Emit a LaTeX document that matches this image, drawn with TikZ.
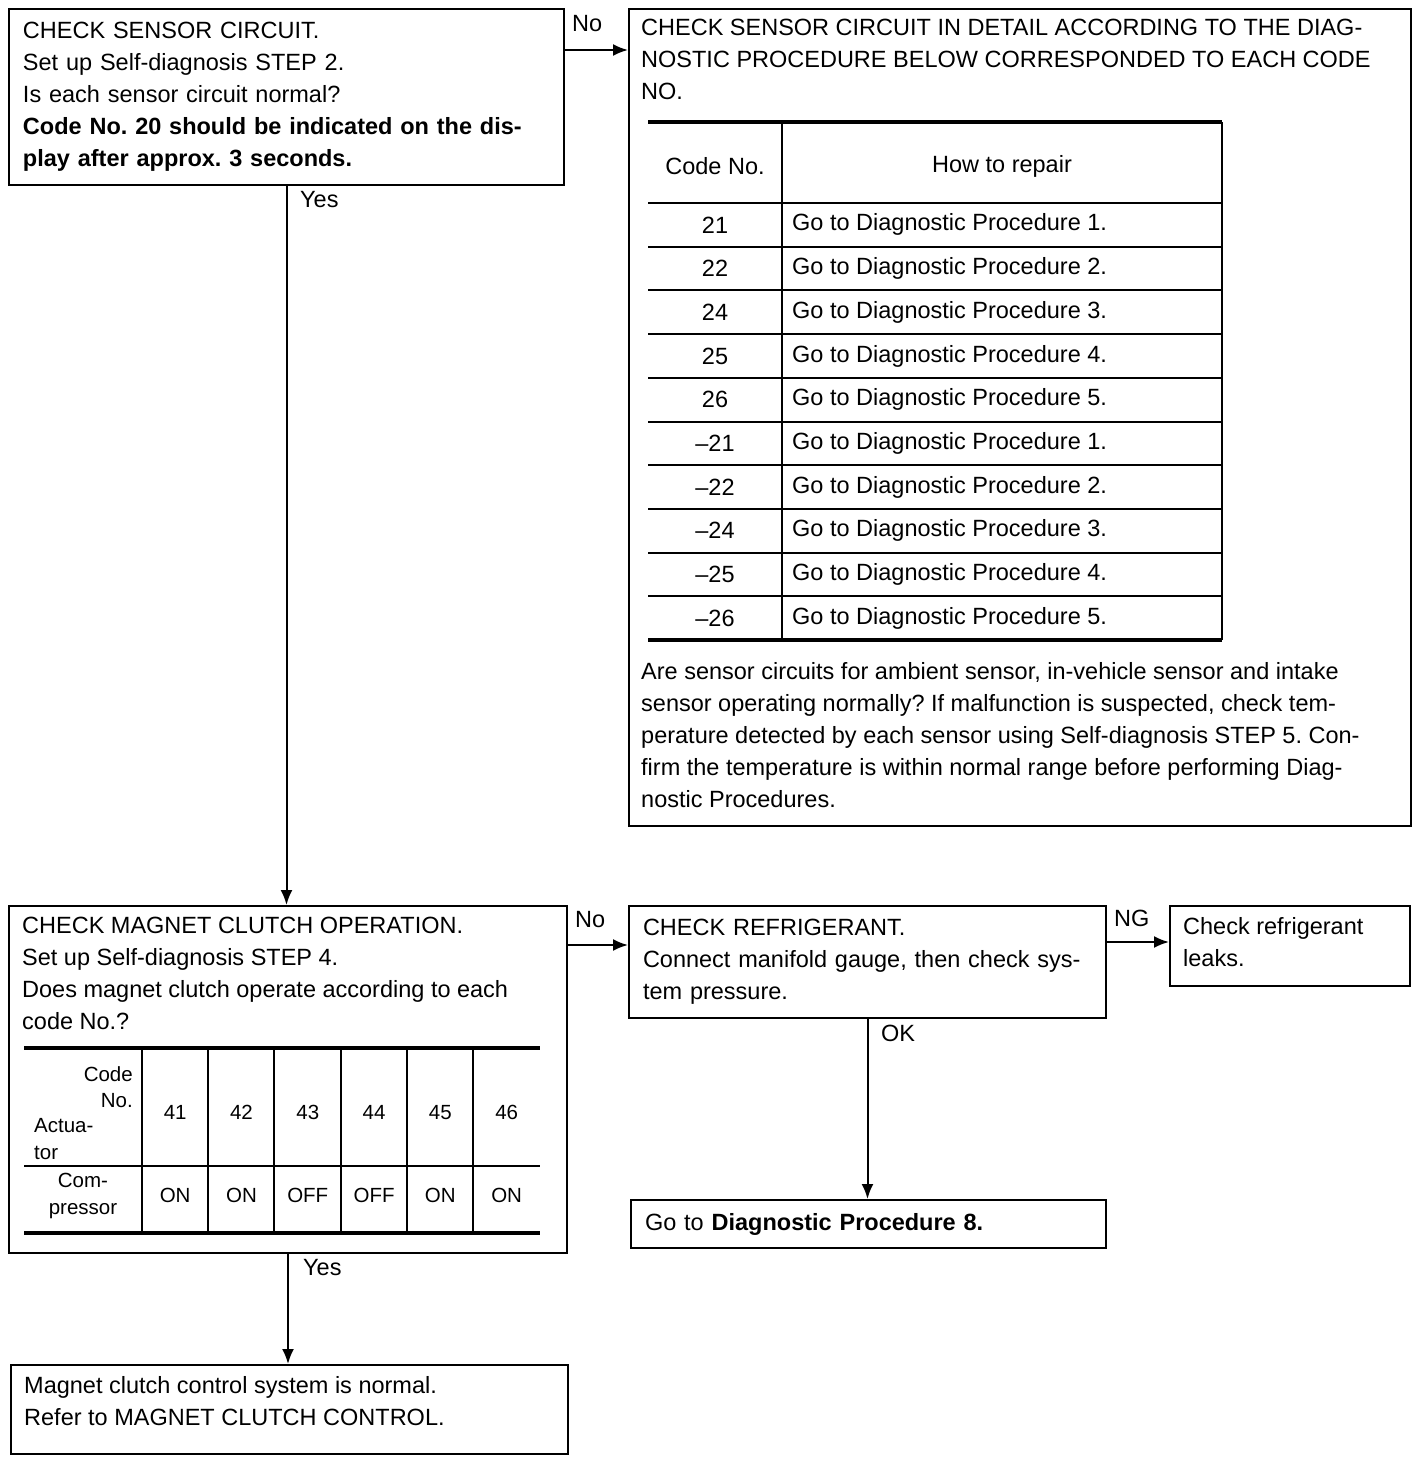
\documentclass[tikz,border=0pt]{standalone}
\usepackage{fontspec}
\setmainfont{Liberation Sans}
\usetikzlibrary{arrows.meta}
\frenchspacing

\begin{document}
\begin{tikzpicture}[x=1pt,y=-1pt,
  box/.style={draw,line width=2pt,anchor=north west,inner xsep=14pt,align=left,font=\fontsize{23.5}{32}\selectfont},
  frame/.style={draw,line width=2pt,anchor=north west},
  txt/.style={anchor=north west,inner sep=0pt,align=left,font=\fontsize{23.5}{32}\selectfont},
  cell/.style={inner sep=0pt,font=\fontsize{23.5}{32}\selectfont},
  small/.style={inner sep=0pt,font=\fontsize{20.5}{26.5}\selectfont},
  lbl/.style={anchor=west,inner sep=0pt,font=\fontsize{23.5}{28}\selectfont},
  arr/.style={line width=2pt,-{Latex[length=15pt,width=12pt]}},
  rule/.style={line width=2pt},
  boldrule/.style={line width=3.5pt}]
  \useasboundingbox (0,0) rectangle (1424,1462);
  \node[box,text width=527pt,minimum width=555pt,minimum height=176pt] (sensor) at (8,8) {CHECK SENSOR CIRCUIT.\\Set up Self-diagnosis STEP 2.\\Is each sensor circuit normal?\\\textbf{Code No. 20 should be indicated on the dis-}\\\textbf{play after approx. 3 seconds.}};
  \node[frame,minimum width=782pt,minimum height=817pt] (detail) at (628,8) {};
  \node[txt] (detailhead) at (641,19) {CHECK SENSOR CIRCUIT IN DETAIL ACCORDING TO THE DIAG-\\NOSTIC PROCEDURE BELOW CORRESPONDED TO EACH CODE\\NO.};
  \draw[boldrule] (648,122) -- (1222,122);
  \draw[rule] (782,122) -- (782,640) (1222,122) -- (1222,640) (648,203) -- (1222,203);
  \foreach \i in {1,...,9}
    \draw[rule] (648,203+43.7*\i) -- (1222,203+43.7*\i);
  \draw[boldrule] (648,640) -- (1222,640);
  \node[cell] (codehead) at (715,166) {Code No.};
  \node[cell] (repairhead) at (1002,166) {How to repair};
  \foreach \code/\proc [count=\i] in {21/1,22/2,24/3,25/4,26/5,{--21}/1,{--22}/2,{--24}/3,{--25}/4,{--26}/5}{
    \node[cell] (code\i) at (715,203+43.7*\i-21.85) {\code};
    \node[cell,anchor=west] (repair\i) at (792,203+43.7*\i-21.85) {Go to Diagnostic Procedure \proc.};
  }
  \node[txt] (detailnote) at (641,662) {Are sensor circuits for ambient sensor, in-vehicle sensor and intake\\sensor operating normally? If malfunction is suspected, check tem-\\perature detected by each sensor using Self-diagnosis STEP 5. Con-\\firm the temperature is within normal range before performing Diag-\\nostic Procedures.};
  \node[frame,minimum width=558pt,minimum height=347pt] (clutch) at (8,905) {};
  \node[txt] (clutchtext) at (22,917) {CHECK MAGNET CLUTCH OPERATION.\\Set up Self-diagnosis STEP 4.\\Does magnet clutch operate according to each\\code No.?};
  \draw[boldrule] (24,1048) -- (540,1048);
  \draw[rule] (24,1166) -- (540,1166);
  \draw[boldrule] (24,1233) -- (540,1233);
  \foreach \x in {142,208,274,341,407,473}
    \draw[rule] (\x,1048) -- (\x,1233);
  \node[small,align=right,anchor=east] (codeno) at (133,1087) {Code\\No.};
  \node[small,align=left,anchor=west] (actuator) at (34,1139) {Actua-\\tor};
  \node[small,align=center] (compressor) at (83,1196) {Com-\\pressor};
  \foreach \code/\state [count=\i] in {41/ON,42/ON,43/OFF,44/OFF,45/ON,46/ON}{
    \node[small,text height=15pt] (act\i) at (142+66.3*\i-33.15,1112) {\code};
    \node[small] (state\i) at (142+66.3*\i-33.15,1195) {\state};
  }
  \node[box,text width=449pt,minimum width=477pt,minimum height=112pt] (refrig) at (628,905) {CHECK REFRIGERANT.\\Connect manifold gauge, then check sys-\\tem pressure.};
  \node[frame,minimum width=240pt,minimum height=80pt] (leak) at (1169,905) {};
  \node[txt] (leaktext) at (1183,917) {Check refrigerant\\leaks.};
  \node[box,text width=447pt,minimum width=475pt,minimum height=48pt] (goto) at (630,1199) {Go to \textbf{Diagnostic Procedure 8.}};
  \node[frame,minimum width=557pt,minimum height=89pt] (normal) at (10,1364) {};
  \node[txt] (normaltext) at (24,1376) {Magnet clutch control system is normal.\\Refer to MAGNET CLUTCH CONTROL.};
  \coordinate (sensorno) at ([yshift=-42pt]sensor.north east);
  \coordinate (clutchno) at ([yshift=-40pt]clutch.north east);
  \coordinate (refrigng) at ([yshift=-37pt]refrig.north east);
  \draw[arr] (sensorno) -- (sensorno -| detail.west);
  \draw[arr] (sensor.south) -- (sensor.south |- clutch.north);
  \draw[arr] (clutchno) -- (clutchno -| refrig.west);
  \draw[arr] (refrigng) -- (refrigng -| leak.west);
  \draw[arr] (refrig.south) -- (refrig.south |- goto.north);
  \draw[arr] (clutch.south) -- (clutch.south |- normal.north);
  \node[lbl] (nolabel1) at (572,24) {No};
  \node[lbl] (yeslabel1) at (300,200) {Yes};
  \node[lbl] (nolabel2) at (575,920) {No};
  \node[lbl] (nglabel) at (1114,918) {NG};
  \node[lbl] (oklabel) at (881,1033) {OK};
  \node[lbl] (yeslabel2) at (303,1268) {Yes};
\end{tikzpicture}
\end{document}
